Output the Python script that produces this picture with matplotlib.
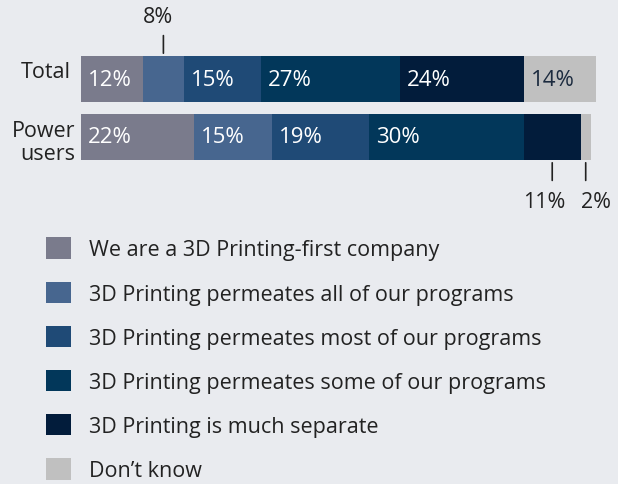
import matplotlib
matplotlib.use("Agg")
import matplotlib.pyplot as plt
import numpy as np

plt.rcParams['font.family'] = ['Open Sans', 'DejaVu Sans']

groups = ["Total", "Power\nusers"]
series = ["We are a 3D Printing-first company",
          "3D Printing permeates all of our programs",
          "3D Printing permeates most of our programs",
          "3D Printing permeates some of our programs",
          "3D Printing is much separate",
          "Don\u2019t know"]
total_vals = [12, 8, 15, 27, 24, 14]
power_vals = [22, 15, 19, 30, 11, 2]
colors = ["#7a7b8c", "#47668f", "#1f4a76", "#02375a", "#021c3b", "#c0c0c0"]
label_colors = ["white", "white", "white", "white", "white", "#1c2b3f"]

W, H = 618, 485
fig = plt.figure(figsize=(W / 100, H / 100), dpi=100, facecolor="#e9ebef")

def fx(px):
    return px / W

def fy(py):
    return 1 - py / H

ax = fig.add_axes([fx(81), fy(161), fx(596) - fx(81), fy(57) - fy(161)])
ax.set_facecolor("none")
data = np.array([total_vals, power_vals])
ypos = np.arange(len(groups))
h = 46 / 58
handles = []
left = np.zeros(len(groups))
for i, s in enumerate(series):
    bars = ax.barh(ypos, data[:, i], left=left, height=h, color=colors[i],
                   label=s, linewidth=0)
    handles.append(bars)
    for g in range(len(groups)):
        v = data[g, i]
        inline = not ((g == 0 and i == 1) or (g == 1 and i >= 4))
        if inline:
            ax.annotate(f"{v}%", xy=(left[g], ypos[g]), xytext=(5, 0),
                        textcoords="offset points", ha="left", va="center",
                        fontsize=16, color=label_colors[i])
    left = left + data[:, i]

ax.set_xlim(0, 100)
ax.set_ylim(1 + h / 2, -h / 2)
ax.axis("off")

def callout(g, i, above, dx_text=0):
    start = data[g, :i].sum()
    xc = start + data[g, i] / 2
    if above:
        y0 = ypos[g] - h / 2
        ax.annotate("", xy=(xc, y0), xytext=(xc, y0 - 0.4),
                    arrowprops=dict(arrowstyle="-", color="#222222", lw=1.2))
        t = ax.text(xc + dx_text, y0 - 0.68, f"{data[g, i]}%", ha="center",
                    va="center", fontsize=15.5, color="#222222")
    else:
        y0 = ypos[g] + h / 2
        ax.annotate("", xy=(xc, y0), xytext=(xc, y0 + 0.4),
                    arrowprops=dict(arrowstyle="-", color="#222222", lw=1.2))
        t = ax.text(xc + dx_text, y0 + 0.72, f"{data[g, i]}%", ha="center",
                    va="center", fontsize=15.5, color="#222222")
    t.set_clip_on(False)

callout(0, 1, True, dx_text=-1)
callout(1, 4, False, dx_text=-1.5)
callout(1, 5, False, dx_text=2.0)

fig.text(fx(71), fy(73), "Total", ha="right", va="center", fontsize=15.5,
         color="#222222")
fig.text(fx(75), fy(143), groups[1], ha="right", va="center", fontsize=15.5,
         color="#222222", linespacing=1.15, multialignment="right")

leg = fig.legend(handles=handles, labels=series, loc="upper left",
                 bbox_to_anchor=(fx(27), fy(219)), frameon=False,
                 fontsize=15.5, handlelength=1.16, handleheight=1.16,
                 labelspacing=0.98, handletextpad=0.8, labelcolor="#222222")

fig.savefig("out.png", dpi=100, facecolor=fig.get_facecolor())
